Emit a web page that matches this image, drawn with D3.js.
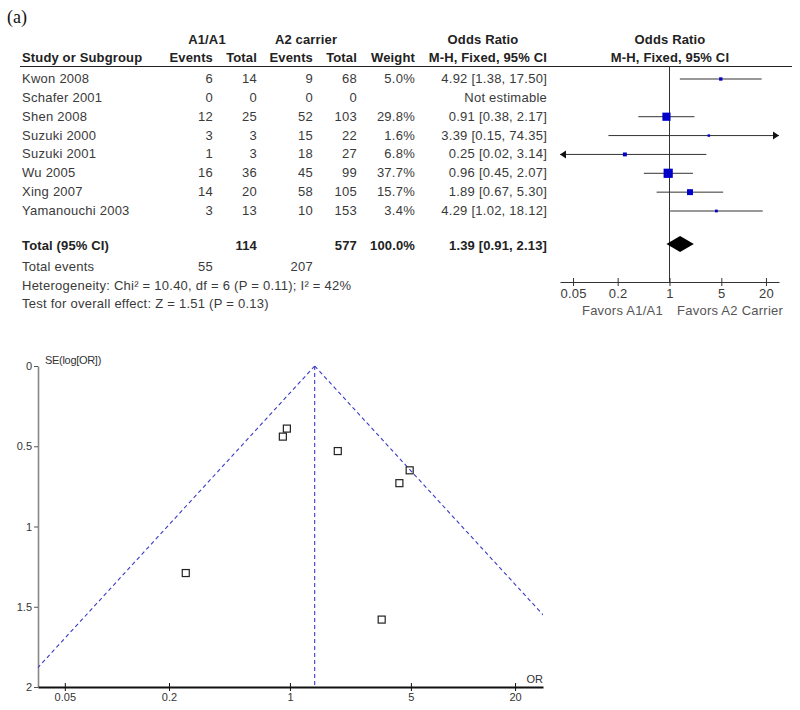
<!DOCTYPE html>
<html><head><meta charset="utf-8">
<script src="https://cdn.jsdelivr.net/npm/d3@7"></script>
<style>
html,body{margin:0;padding:0;background:#fff;}
svg{display:block;}
text{font-family:"Liberation Sans",Arial,sans-serif;}
</style></head>
<body>
<script>
// ---------- data ----------
const studies   = ["Kwon 2008","Schafer 2001","Shen 2008","Suzuki 2000","Suzuki 2001","Wu 2005","Xing 2007","Yamanouchi 2003"];
const a1Events  = [6,0,12,3,1,16,14,3];
const a1Total   = [14,0,25,3,3,36,20,13];
const a2Events  = [9,0,52,15,18,45,58,10];
const a2Total   = [68,0,103,22,27,99,105,153];
const weights   = [5.0,null,29.8,1.6,6.8,37.7,15.7,3.4];
const orVals    = [4.92,null,0.91,3.39,0.25,0.96,1.89,4.29];
const ciLow     = [1.38,null,0.38,0.15,0.02,0.45,0.67,1.02];
const ciHigh    = [17.50,null,2.17,74.35,3.14,2.07,5.30,18.12];
const funnelSE  = [0.65,null,0.44,1.58,1.29,0.39,0.53,0.73];
const totalA1 = 114, totalA2 = 577, totalEventsA1 = 55, totalEventsA2 = 207;
const pooledOR = 1.39, pooledLow = 0.91, pooledHigh = 2.13;
const forestTicks = [0.05,0.2,1,5,20];
const funnelXTicks = [0.05,0.2,1,5,20];
const funnelYTicks = [0,0.5,1,1.5,2];
const hetText = "Heterogeneity: Chi\u00B2 = 10.40, df = 6 (P = 0.11); I\u00B2 = 42%";
const testText = "Test for overall effect: Z = 1.51 (P = 0.13)";

// ---------- svg ----------
const W = 800, H = 710;
const svg = d3.select("body").append("svg").attr("width",W).attr("height",H);
const txt = "#3a3a3a";
const f2 = d3.format(".2f");

svg.append("text").attr("x",7).attr("y",23).style("font-family","'Liberation Serif','Times New Roman',serif")
  .attr("font-size",18).attr("fill","#111").text("(a)");

// columns
const col = {study:22, ev1:213, tot1:257, ev2:313, tot2:357, wt:415, orTxt:547};
const rowY = d3.scalePoint().domain(studies).range([79,211]);
const fs = 13;

function t(x,y,s,anchor,bold){
  return svg.append("text").attr("x",x).attr("y",y).attr("font-size",fs)
    .attr("text-anchor",anchor||"start").attr("font-weight",bold?"bold":"normal")
    .attr("letter-spacing",bold?0.15:0.25)
    .attr("fill",bold?"#222":txt).text(s);
}
// headers
t(207,44,"A1/A1","middle",true);
t(306,44,"A2 carrier","middle",true);
t(483,44,"Odds Ratio","middle",true);
t(670,44,"Odds Ratio","middle",true);
t(col.study,62,"Study or Subgroup","start",true);
t(col.ev1,62,"Events","end",true);
t(col.tot1,62,"Total","end",true);
t(col.ev2,62,"Events","end",true);
t(col.tot2,62,"Total","end",true);
t(col.wt,62,"Weight","end",true);
t(col.orTxt,62,"M-H, Fixed, 95% CI","end",true);
t(670,62,"M-H, Fixed, 95% CI","middle",true);
svg.append("line").attr("x1",20).attr("x2",792).attr("y1",66.5).attr("y2",66.5).attr("stroke","#222").attr("stroke-width",1);

// rows
studies.forEach((s,i)=>{
  const y = rowY(s)+4;
  t(col.study,y,s);
  t(col.ev1,y,a1Events[i],"end");
  t(col.tot1,y,a1Total[i],"end");
  t(col.ev2,y,a2Events[i],"end");
  t(col.tot2,y,a2Total[i],"end");
  if(weights[i]!=null) t(col.wt,y,weights[i].toFixed(1)+"%","end");
  t(col.orTxt,y, orVals[i]!=null ? `${f2(orVals[i])} [${f2(ciLow[i])}, ${f2(ciHigh[i])}]` : "Not estimable","end");
});
// totals
const yTot = 250;
t(col.study,yTot,"Total (95% CI)","start",true);
t(col.tot1,yTot,totalA1,"end",true);
t(col.tot2,yTot,totalA2,"end",true);
t(col.wt,yTot,"100.0%","end",true);
t(col.orTxt,yTot,`${f2(pooledOR)} [${f2(pooledLow)}, ${f2(pooledHigh)}]`,"end",true);
t(col.study,271,"Total events");
t(col.ev1,271,totalEventsA1,"end");
t(col.ev2,271,totalEventsA2,"end");
t(col.study,290,hetText);
t(col.study,308,testText);

// ---------- forest plot ----------
const fx = d3.scaleLog().domain([1/30,30]).range([560,779]);
const axisY = 282;
svg.append("line").attr("x1",fx(1)).attr("x2",fx(1)).attr("y1",66.5).attr("y2",axisY).attr("stroke","#333").attr("stroke-width",1);
const fAxis = svg.append("g").attr("transform",`translate(0,${axisY})`)
  .call(d3.axisBottom(fx).tickValues(forestTicks).tickFormat(d=>String(d)).tickSizeInner(4).tickSizeOuter(0));
fAxis.select(".domain").attr("stroke","#333");
fAxis.selectAll(".tick line").attr("y1",-4).attr("y2",4).attr("stroke","#333");
fAxis.selectAll(".tick text").attr("font-size",13).attr("fill",txt).attr("dy",0).attr("y",16).attr("letter-spacing",0.25)
  .style("font-family","'Liberation Sans',Arial,sans-serif");
svg.append("text").attr("x",663).attr("y",315).attr("text-anchor","end").attr("font-size",13).attr("letter-spacing",0.25).attr("fill","#555").text("Favors A1/A1");
svg.append("text").attr("x",677).attr("y",315).attr("text-anchor","start").attr("font-size",13).attr("letter-spacing",0.25).attr("fill","#555").text("Favors A2 Carrier");

const [dLo,dHi] = fx.domain();
studies.forEach((s,i)=>{
  if(orVals[i]==null) return;
  const y = rowY(s);
  const lo = Math.max(ciLow[i],dLo), hi = Math.min(ciHigh[i],dHi);
  svg.append("line").attr("x1",fx(lo)).attr("x2",fx(hi)).attr("y1",y).attr("y2",y).attr("stroke","#333").attr("stroke-width",1);
  if(ciHigh[i]>dHi){
    const x = fx(dHi);
    svg.append("path").attr("d",`M${x},${y}L${x-6},${y-4}L${x-6},${y+4}Z`).attr("fill","#111");
  }
  if(ciLow[i]<dLo){
    const x = fx(dLo);
    svg.append("path").attr("d",`M${x},${y}L${x+6},${y-4}L${x+6},${y+4}Z`).attr("fill","#111");
  }
  const side = Math.max(2.5, 1.5*Math.sqrt(weights[i]));
  svg.append("rect").attr("x",fx(orVals[i])-side/2).attr("y",y-side/2).attr("width",side).attr("height",side).attr("fill","#0000c8");
});
// diamond
const dy = 244;
svg.append("path").attr("d",`M${fx(pooledLow)},${dy}L${fx(pooledOR)},${dy-8}L${fx(pooledHigh)},${dy}L${fx(pooledOR)},${dy+8}Z`).attr("fill","#000");

// ---------- funnel plot ----------
const gx = d3.scaleLog().domain([0.035,29]).range([38,543]);
const gy = d3.scaleLinear().domain([0,2]).range([366,687]);
const clipId = "fclip";
svg.append("clipPath").attr("id",clipId).append("rect").attr("x",gx.range()[0]).attr("y",gy(0)-2).attr("width",gx.range()[1]-gx.range()[0]).attr("height",gy(2)-gy(0)+2);

// y axis
const yAx = svg.append("g").attr("transform",`translate(${gx.range()[0]},0)`)
  .call(d3.axisLeft(gy).tickValues(funnelYTicks).tickFormat(d=>String(d)).tickSizeInner(4).tickSizeOuter(0));
yAx.select(".domain").attr("stroke","#888").attr("stroke-width",1.6);
yAx.selectAll(".tick line").attr("stroke","#555");
yAx.selectAll(".tick text").attr("font-size",11).attr("fill","#333").attr("x",-6).style("font-family","'Liberation Sans',Arial,sans-serif");
// x axis
const xAx = svg.append("g").attr("transform",`translate(0,${gy(2)})`)
  .call(d3.axisBottom(gx).tickValues(funnelXTicks).tickFormat(d=>String(d)).tickSizeInner(4).tickSizeOuter(0));
xAx.select(".domain").attr("stroke","#111").attr("stroke-width",2);
xAx.selectAll(".tick line").attr("y1",-4).attr("y2",4).attr("stroke","#111");
xAx.selectAll(".tick text").attr("font-size",11).attr("fill","#333").attr("dy",0).attr("y",14).style("font-family","'Liberation Sans',Arial,sans-serif");
svg.append("text").attr("x",gx.range()[1]).attr("y",683).attr("text-anchor","end").attr("font-size",11).attr("fill","#333").text("OR");
svg.append("text").attr("x",45).attr("y",364).attr("font-size",11).attr("fill","#333").attr("letter-spacing",-0.3).text("SE(log[OR])");

// pooled line & funnel
const dashCol = "#3a3ac8";
svg.append("line").attr("x1",gx(pooledOR)).attr("x2",gx(pooledOR)).attr("y1",gy(0)).attr("y2",gy(2))
  .attr("stroke",dashCol).attr("stroke-width",1.1).attr("stroke-dasharray","4,3");
const lp = Math.log(pooledOR);
const funnelLeft = [[pooledOR,0],[Math.exp(lp-1.96*2),2]];
const funnelRight = [[pooledOR,0],[Math.exp(lp+1.96*2),2]];
const lineGen = d3.line().x(d=>gx(d[0])).y(d=>gy(d[1]));
[funnelLeft,funnelRight].forEach(p=>{
  svg.append("path").attr("d",lineGen(p)).attr("clip-path",`url(#${clipId})`)
    .attr("fill","none").attr("stroke",dashCol).attr("stroke-width",1.1).attr("stroke-dasharray","4,3");
});
// points
studies.forEach((s,i)=>{
  if(funnelSE[i]==null) return;
  svg.append("rect").attr("x",gx(orVals[i])-3.5).attr("y",gy(funnelSE[i])-3.5).attr("width",7).attr("height",7)
    .attr("fill","none").attr("stroke","#222").attr("stroke-width",1.2);
});
</script>
</body></html>
